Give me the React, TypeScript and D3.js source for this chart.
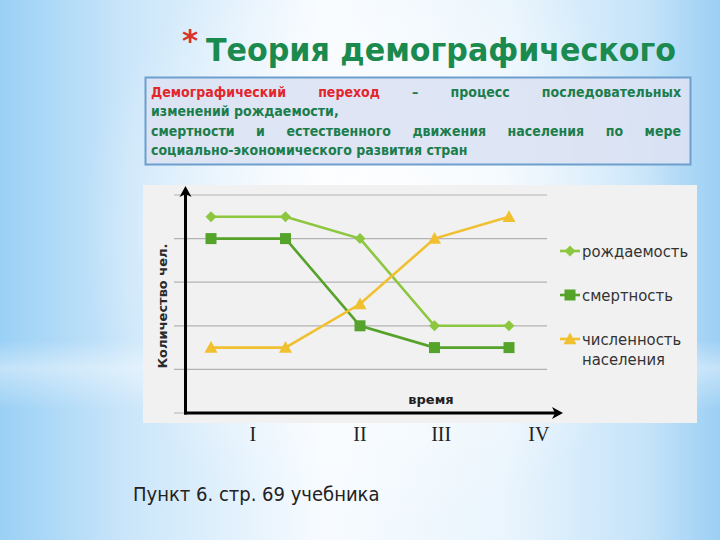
import * as d3 from 'd3';

// значения (в делениях сетки, 0 = ось времени)
const points = [0, 1, 2, 3, 4];
const birthRate = [4.5, 4.5, 4, 2, 2];
const deathRate = [4, 4, 2, 1.5, 1.5];
const population = [1.5, 1.5, 2.5, 4, 4.5];
const gridLevels = [0, 1, 2, 3, 4, 5];
const stageLabels = ['I', 'II', 'III', 'IV'];
const stagePositions = [0.56, 2, 3.09, 4.4];
const seriesNames = ['рождаемость', 'смертность', 'численность'];

const W = 720;
const H = 540;
const GREEN_TEXT = '#1b7d4c';
const RED_TEXT = '#e2262c';
const COND = '"DejaVu Sans Condensed", "DejaVu Sans"';

const boxLines: { words: { t: string; c: string }[]; justify: boolean }[] = [
  {
    words: [
      { t: 'Демографический', c: RED_TEXT },
      { t: 'переход', c: RED_TEXT },
      { t: '–', c: GREEN_TEXT },
      { t: 'процесс', c: GREEN_TEXT },
      { t: 'последовательных', c: GREEN_TEXT },
    ],
    justify: true,
  },
  { words: [{ t: 'изменений рождаемости,', c: GREEN_TEXT }], justify: false },
  {
    words: 'смертности и естественного движения населения по мере'.split(' ').map((t) => ({ t, c: GREEN_TEXT })),
    justify: true,
  },
  { words: [{ t: 'социально-экономического развития стран', c: GREEN_TEXT }], justify: false },
];

let ctx: CanvasRenderingContext2D | null = null;
function measure(text: string, font: string) {
  if (!ctx) ctx = document.createElement('canvas').getContext('2d');
  if (!ctx) return text.length * 8;
  ctx.font = font;
  return ctx.measureText(text).width;
}

function Marker({ kind, x, y, color }: { kind: string; x: number; y: number; color: string }) {
  if (kind === 'diamond') {
    const s = 5.5;
    return <path d={`M${x},${y - s}L${x + s},${y}L${x},${y + s}L${x - s},${y}Z`} fill={color} />;
  }
  if (kind === 'square') {
    const s = 5.5;
    return <rect x={x - s} y={y - s} width={s * 2} height={s * 2} fill={color} />;
  }
  const s = 6.5;
  return <path d={`M${x},${y - s}L${x + s},${y + s * 0.8}L${x - s},${y + s * 0.8}Z`} fill={color} />;
}

export default function App() {
  const x = d3.scaleLinear().domain([0, 4]).range([211, 509]);
  const y = d3.scaleLinear().domain([0, 5]).range([413, 195]);

  const series = [
    { name: seriesNames[0], values: birthRate, color: '#8dc63f', kind: 'diamond' },
    { name: seriesNames[1], values: deathRate, color: '#55a32a', kind: 'square' },
    { name: seriesNames[2], values: population, color: '#f0c030', kind: 'triangle' },
  ];

  const line = d3
    .line<number>()
    .x((_, i) => x(points[i]))
    .y((d) => y(d));

  const boxFont = `bold 14px ${COND}`;
  const left = 151;
  const right = 681;
  const lineY = [97, 116, 136, 155];

  const legendY = [251, 295, 339];

  return (
    <svg width={W} height={H} style={{ position: 'absolute', left: 0, top: 0 }} fontFamily="DejaVu Sans">
      <defs>
        <linearGradient id="bgx" x1="0" y1="0" x2={W} y2="0" gradientUnits="userSpaceOnUse">
          <stop offset="0" stopColor="#9ad0f5" />
          <stop offset="0.18" stopColor="#cbe6fa" />
          <stop offset="0.45" stopColor="#f7fbff" />
          <stop offset="0.7" stopColor="#eaf5fd" />
          <stop offset="0.9" stopColor="#c4e3f9" />
          <stop offset="1" stopColor="#9ccff4" />
        </linearGradient>
        <radialGradient id="glow" cx="380" cy="230" r="300" gradientUnits="userSpaceOnUse">
          <stop offset="0" stopColor="#ffffff" stopOpacity="0.9" />
          <stop offset="0.6" stopColor="#ffffff" stopOpacity="0.35" />
          <stop offset="1" stopColor="#ffffff" stopOpacity="0" />
        </radialGradient>
        <linearGradient id="band" x1="0" y1="340" x2="0" y2="410" gradientUnits="userSpaceOnUse">
          <stop offset="0" stopColor="#ffffff" stopOpacity="0" />
          <stop offset="0.4" stopColor="#ffffff" stopOpacity="0.4" />
          <stop offset="1" stopColor="#ffffff" stopOpacity="0" />
        </linearGradient>
      </defs>
      <rect width={W} height={H} fill="url(#bgx)" />
      <rect width={W} height={H} fill="url(#glow)" />
      <rect y={340} width={W} height={70} fill="url(#band)" />

      {/* заголовок */}
      <text x={182} y={51} fontSize={31} fontWeight="bold" fill="#d9342b">*</text>
      <text x={206} y={61} fontSize={32} fontWeight="bold" fontFamily={COND} fill="#1b8a4e" textLength={470} lengthAdjust="spacingAndGlyphs">
        Теория демографического
      </text>

      {/* определение */}
      <rect x={145.5} y={77.5} width={545} height={87} fill="#dce2f3" fillOpacity={0.9} stroke="#6c9fcd" strokeWidth={2} />
      {boxLines.map((ln, li) => {
        const widths = ln.words.map((w) => measure(w.t, boxFont));
        const total = d3.sum(widths);
        const gap = ln.justify && ln.words.length > 1 ? (right - left - total) / (ln.words.length - 1) : measure(' ', boxFont);
        let cx = left;
        return ln.words.map((w, wi) => {
          const el = (
            <text key={`${li}-${wi}`} x={cx} y={lineY[li]} fontSize={14} fontWeight="bold" fontFamily={COND} fill={w.c}>
              {w.t}
            </text>
          );
          cx += widths[wi] + gap;
          return el;
        });
      })}

      {/* панель графика */}
      <rect x={143} y={185} width={554} height={238} fill="#f1f1f1" />
      {gridLevels.map((g) => (
        <line key={g} x1={174} x2={547} y1={y(g)} y2={y(g)} stroke="#b3b3b3" strokeWidth={1.2} />
      ))}

      {series.map((s) => (
        <g key={s.name}>
          <path d={line(s.values) || ''} fill="none" stroke={s.color} strokeWidth={2.6} />
          {s.values.map((v, i) => (
            <Marker key={i} kind={s.kind} x={x(points[i])} y={y(v)} color={s.color} />
          ))}
        </g>
      ))}

      {/* оси */}
      <line x1={185.5} y1={y(0) + 1.5} x2={185.5} y2={194} stroke="#000" strokeWidth={3} />
      <path d={`M185.5,186L179.5,197L185.5,194L191.5,197Z`} fill="#000" />
      <line x1={184} y1={y(0)} x2={555} y2={y(0)} stroke="#000" strokeWidth={3} />
      <path d={`M563,${y(0)}L552,${y(0) - 6}L555,${y(0)}L552,${y(0) + 6}Z`} fill="#000" />

      <text transform="translate(167,306) rotate(-90)" textAnchor="middle" fontSize={13} fontWeight="bold" fill="#2b2b2b">
        Количество чел.
      </text>
      <text x={431} y={404} textAnchor="middle" fontSize={13} fontWeight="bold" fill="#1f1f1f">
        время
      </text>

      {/* легенда */}
      {series.map((s, i) => (
        <g key={s.name}>
          <line x1={560} x2={580} y1={legendY[i]} y2={legendY[i]} stroke={s.color} strokeWidth={2.6} />
          <Marker kind={s.kind} x={570} y={legendY[i]} color={s.color} />
          <text x={582} y={legendY[i] + 6} fontSize={16.5} fontFamily={COND} fill="#333">
            {s.name}
          </text>
        </g>
      ))}
      <text x={582} y={legendY[2] + 26} fontSize={16.5} fontFamily={COND} fill="#333">
        населения
      </text>

      {/* стадии */}
      {stageLabels.map((l, i) => (
        <text key={l} x={x(stagePositions[i])} y={441} textAnchor="middle" fontSize={20} fontFamily="Liberation Serif" fill="#222">
          {l}
        </text>
      ))}

      <text x={133} y={501} fontSize={20} fontFamily={COND} fill="#222">
        Пункт 6. стр. 69 учебника
      </text>
    </svg>
  );
}
